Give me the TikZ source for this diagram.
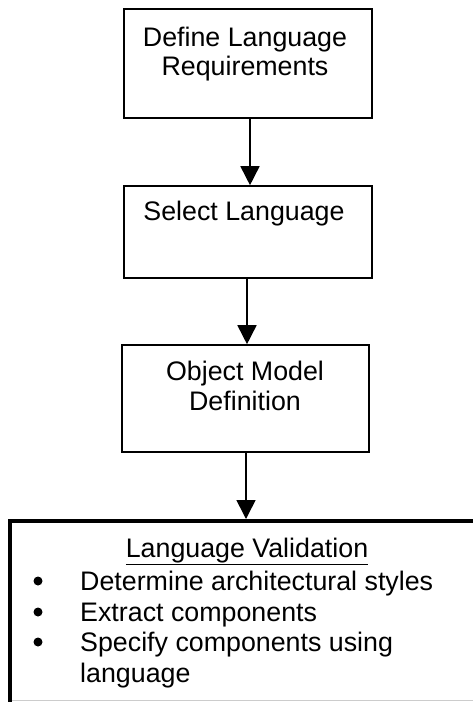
\documentclass[tikz,border=0pt]{standalone}
\usepackage{fontspec}
\setmainfont{Liberation Sans}
\usetikzlibrary{arrows.meta,calc}
\begin{document}
\begin{tikzpicture}[x=1pt,y=-1pt,
  box/.style={draw,line width=1.6pt,inner sep=0pt},
  txt/.style={inner sep=0pt,align=center,font=\fontsize{26.8}{30}\selectfont},
  conn/.style={line width=1.6pt,-{Triangle[length=19pt,width=19pt]}},
]
\useasboundingbox (0,0) rectangle (473,702);
\fill[white] (0,0) rectangle (473,702);
% boxes
\node[box,minimum width=248pt,minimum height=109pt] (b1) at (248,63.5) {};
\node[box,minimum width=248pt,minimum height=92pt] (b2) at (248,232) {};
\node[box,minimum width=247pt,minimum height=107pt] (b3) at (245.5,398.5) {};
% texts
\node[txt,anchor=base] (t1a) at (245,46) {Define Language};
\node[txt,anchor=base] (t1b) at (245,75) {Requirements};
\node[txt,anchor=base] (t2) at (244,220) {Select Language};
\node[txt,anchor=base] (t3a) at (245,380) {Object Model};
\node[txt,anchor=base] (t3b) at (245,410) {Definition};
% bottom box
\draw[line width=4pt] (10,702) |- (473,521);
\draw[gray!40,line width=1pt] (12,700.5) -- (473,700.5);
\coordinate (b4) at (246,519);
\node[txt,anchor=base] (t4) at (247,557) {\underline{Language Validation}};
\node[txt,anchor=base west] (l1) at (80,590) {Determine architectural styles};
\node[txt,anchor=base west] (l2) at (80,621) {Extract components};
\node[txt,anchor=base west] (l3) at (80,651) {Specify components using};
\node[txt,anchor=base west] (l4) at (80,682) {language};
\foreach \n in {l1,l2,l3}{
  \fill ($(\n.base west)+(-42,-9)$) circle (4.5pt);
}
% connectors
\draw[conn] ($(b1.south)+(2,0)$) -- ($(b2.north)+(2,0)$);
\draw[conn] ($(b2.south)+(-1,0)$) -- ($(b3.north)+(1.5,0)$);
\draw[conn] ($(b3.south)+(0.5,0)$) -- (b4);
\end{tikzpicture}
\end{document}
